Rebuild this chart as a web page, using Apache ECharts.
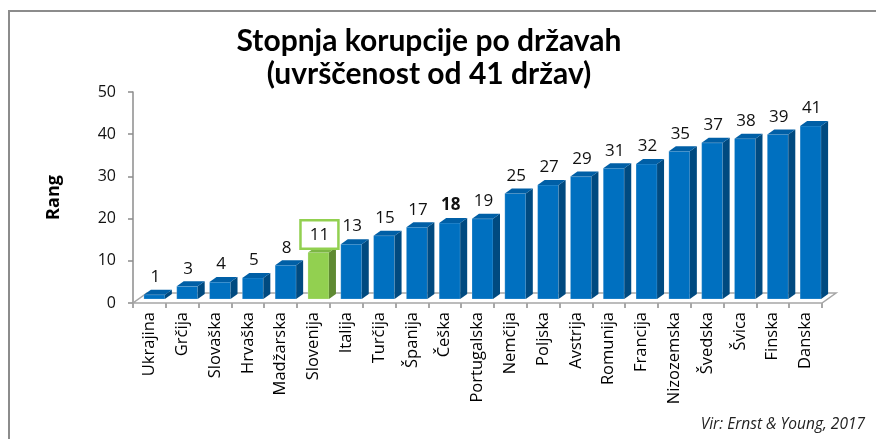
<!DOCTYPE html>
<html>
<head>
<meta charset="utf-8">
<script src="https://cdn.jsdelivr.net/npm/echarts@6/dist/echarts.min.js"></script>
<style>
  html, body { margin: 0; padding: 0; background: #fff; }
  #chart { width: 876px; height: 439px; }
</style>
</head>
<body>
<div id="chart"></div>
<script>
  var categories = ['Ukrajina', 'Grčija', 'Slovaška', 'Hrvaška', 'Madžarska', 'Slovenija', 'Italija',
    'Turčija', 'Španija', 'Češka', 'Portugalska', 'Nemčija', 'Poljska', 'Avstrija', 'Romunija',
    'Francija', 'Nizozemska', 'Švedska', 'Švica', 'Finska', 'Danska'];
  var values = [1, 3, 4, 5, 8, 11, 13, 15, 17, 18, 19, 25, 27, 29, 31, 32, 35, 37, 38, 39, 41];
  var highlight = 'Slovenija';   // green bar, boxed label
  var boldLabel = 'Češka';       // label printed in bold
  var yTicks = { min: 0, max: 50, interval: 10 };

  var blue = { front: '#0070c0', side: '#004a80', top: '#005fa6' };
  var green = { front: '#92d050', side: '#5f8a32', top: '#7cb644' };

  // 3d look
  var depthX = 7, depthY = 5, lift = 4, barW = 21, barShift = -5.5;
  var floorDX = 14, floorDY = 10;

  var chart = echarts.init(document.getElementById('chart'));

  function renderBar(params, api) {
    var i = api.value(0);
    var v = api.value(1);
    var base = api.coord([i, 0]);
    var topPt = api.coord([i, v]);
    var c = categories[i] === highlight ? green : blue;
    var x0 = base[0] + barShift;
    var x1 = x0 + barW;
    var yb = base[1] - lift;
    var yt = topPt[1] - lift;
    var label = {
      type: 'text',
      z2: 10,
      style: {
        text: String(v),
        x: (x0 + x1) / 2 + 1,
        y: yt - depthY - 4,
        align: 'center',
        verticalAlign: 'bottom',
        fontFamily: 'Open Sans',
        fontSize: 17,
        fontWeight: categories[i] === boldLabel ? 'bold' : 'normal',
        fill: '#111'
      }
    };
    if (categories[i] === highlight) {
      label.style.backgroundColor = '#fff';
      label.style.borderColor = '#92d050';
      label.style.borderWidth = 2.5;
      label.style.padding = [5, 8, 4, 8];
      label.style.y = yt - depthY;
    }
    return {
      type: 'group',
      children: [
        { type: 'rect', shape: { x: x0, y: yt, width: barW, height: yb - yt },
          style: { fill: c.front, stroke: 'rgba(255,255,255,0.35)', lineWidth: 0.6 } },
        { type: 'polygon', shape: { points: [[x1, yt], [x1 + depthX, yt - depthY], [x1 + depthX, yb - depthY], [x1, yb]] },
          style: { fill: c.side } },
        { type: 'polygon', shape: { points: [[x0, yt], [x0 + depthX, yt - depthY], [x1 + depthX, yt - depthY], [x1, yt]] },
          style: { fill: c.top } },
        label
      ]
    };
  }

  function renderFloor(params, api) {
    var cs = params.coordSys;
    var yf = cs.y + cs.height;
    return {
      type: 'polygon',
      shape: { points: [[cs.x, yf], [cs.x + cs.width, yf], [cs.x + cs.width + floorDX, yf - floorDY], [cs.x + floorDX, yf - floorDY]] },
      style: { fill: '#fff', stroke: '#a6a6a6', lineWidth: 1.5 }
    };
  }

  var option = {
    backgroundColor: '#fff',
    animation: false,
    title: {
      text: 'Stopnja korupcije po državah\n(uvrščenost od 41 držav)',
      left: 424,
      top: 20,
      textAlign: 'center',
      textStyle: { fontFamily: 'Lato', fontWeight: 'bold', fontSize: 30, lineHeight: 33, color: '#000' }
    },
    grid: { left: 133, right: 54, top: 92, bottom: 136 },
    xAxis: {
      type: 'category',
      data: categories,
      axisLine: { show: false },
      axisTick: { show: true, length: 5, lineStyle: { color: '#8c8c8c', width: 1.5 } },
      axisLabel: { rotate: 90, interval: 0, margin: 9, fontFamily: 'Open Sans', fontSize: 16.5, color: '#000' }
    },
    yAxis: {
      type: 'value',
      min: yTicks.min,
      max: yTicks.max,
      interval: yTicks.interval,
      name: 'Rang',
      nameLocation: 'middle',
      nameGap: 70,
      nameTextStyle: { fontFamily: 'Open Sans', fontWeight: 'bold', fontSize: 18, color: '#000' },
      splitLine: { show: false },
      axisLine: { show: true, lineStyle: { color: '#8c8c8c', width: 1.5 } },
      axisTick: { show: true, length: 5, lineStyle: { color: '#8c8c8c', width: 1.5 } },
      axisLabel: { margin: 17, fontFamily: 'Open Sans', fontSize: 16, color: '#111' }
    },
    graphic: [
      { type: 'polyline', shape: { points: [[9, 439], [9, 11], [876, 11]] },
        style: { fill: null, stroke: '#8c8c8c', lineWidth: 2 } },
      { type: 'text', right: 11, top: 417,
        style: { text: 'Vir: Ernst & Young, 2017', fontFamily: 'Open Sans', fontStyle: 'italic', fontSize: 15.5, fill: '#222' } }
    ],
    series: [
      { type: 'custom', name: 'floor', renderItem: renderFloor, data: [[0, 0]], z: 1, silent: true },
      { type: 'custom', name: 'Rang', renderItem: renderBar, z: 2,
        encode: { x: 0, y: 1 },
        data: values.map(function (v, i) { return [i, v]; }) }
    ]
  };

  chart.setOption(option);
</script>
</body>
</html>
